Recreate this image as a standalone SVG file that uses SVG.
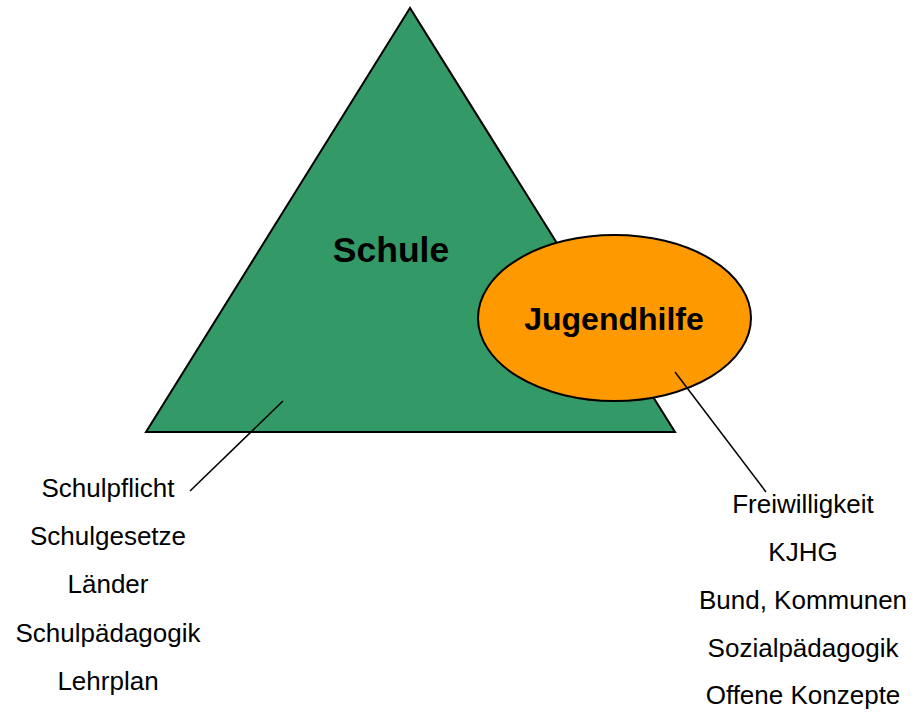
<svg xmlns="http://www.w3.org/2000/svg" width="915" height="714" viewBox="0 0 915 714">
<style>
.shape{stroke:#000;stroke-width:2}
.title{font-family:"Liberation Sans",Arial,sans-serif;font-weight:bold;text-anchor:middle;fill:#000}
.item{font-family:"Liberation Sans",Arial,sans-serif;font-size:26px;text-anchor:middle;fill:#000}
.conn{stroke:#000;stroke-width:1.5;fill:none}
</style>
<rect width="915" height="714" fill="#fff"/>
<g id="schule">
<polygon class="shape" points="410,8 146,432 675,432" fill="#339966"/>
<text class="title" x="391" y="262" font-size="35.5">Schule</text>
</g>
<g id="jugendhilfe">
<ellipse class="shape" cx="614.5" cy="318" rx="136.5" ry="83" fill="#FF9900"/>
<text class="title" x="614" y="330" font-size="32">Jugendhilfe</text>
</g>
<g id="connectors">
<line class="conn" x1="283" y1="401" x2="190" y2="491"/>
<line class="conn" x1="675" y1="372" x2="766" y2="492"/>
</g>
<g id="schule-list">
<text class="item" x="108" y="497">Schulpflicht</text>
<text class="item" x="108" y="545">Schulgesetze</text>
<text class="item" x="108" y="593">Länder</text>
<text class="item" x="108" y="642">Schulpädagogik</text>
<text class="item" x="108" y="690">Lehrplan</text>
</g>
<g id="jugendhilfe-list">
<text class="item" x="803" y="513">Freiwilligkeit</text>
<text class="item" x="803" y="561">KJHG</text>
<text class="item" x="803" y="609">Bund, Kommunen</text>
<text class="item" x="803" y="657">Sozialpädagogik</text>
<text class="item" x="803" y="704">Offene Konzepte</text>
</g>
</svg>
